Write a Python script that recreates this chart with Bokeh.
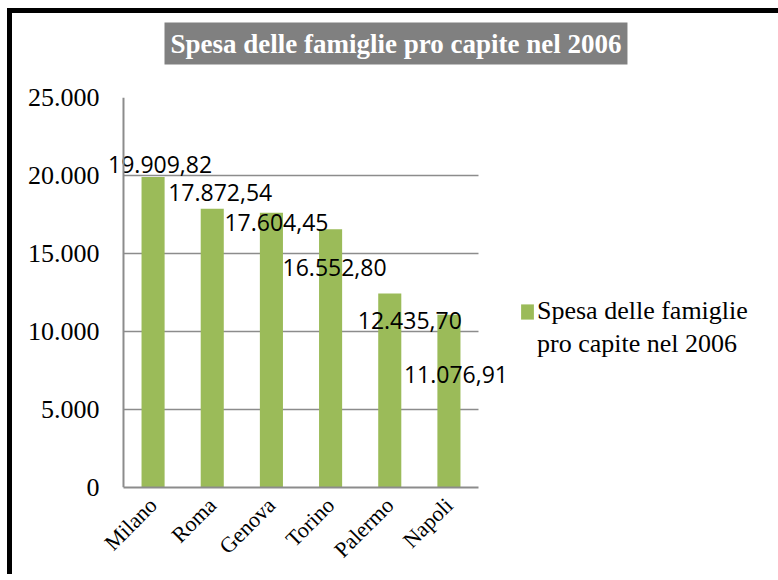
from bokeh.plotting import figure
from bokeh.models import ColumnDataSource, LabelSet, Legend, LegendItem, FixedTicker, Range1d, Span, Title
from bokeh.core.properties import value
from bokeh.embed import file_html
from bokeh.resources import INLINE
from math import pi

# ---- data ----
cities = ["Milano", "Roma", "Genova", "Torino", "Palermo", "Napoli"]
spesa = [19909.82, 17872.54, 17604.45, 16552.80, 12435.70, 11076.91]
value_labels = ["19.909,82", "17.872,54", "17.604,45", "16.552,80", "12.435,70", "11.076,91"]
y_ticks = [0, 5000, 10000, 15000, 20000, 25000]
y_tick_labels = ["0", "5.000", "10.000", "15.000", "20.000", "25.000"]
series_name = "Spesa delle famiglie pro capite nel 2006"
legend_lines = ["Spesa delle famiglie", "pro capite nel 2006"]

# label placement (pixels, layout only)
lab_dx = [7, 8, 5, 4, 20, 7]
lab_dy = [4, 8, -18, -47, -35, -68]

GREEN = "#9BBB59"
GRID = "#8c8c8c"

n = len(cities)
xpos = [i + 0.5 for i in range(n)]

p = figure(x_range=Range1d(-0.304, 6.625), y_range=Range1d(0, 25000),
           frame_width=410, frame_height=390,
           output_backend="svg", toolbar_location=None,
           min_border_left=93, min_border_right=240, min_border_top=84, min_border_bottom=70)
p.styles = {"margin-left": "7px", "margin-top": "8px", "margin-bottom": "-40px",
            "border-left": "5px solid black", "border-top": "5px solid black"}
p.outline_line_color = None
p.background_fill_color = "white"
p.border_fill_color = "white"

src = ColumnDataSource(dict(x=xpos, top=spesa, txt=value_labels, dx=lab_dx, dy=lab_dy))
bars = p.vbar(x="x", top="top", width=0.39, source=src, fill_color=GREEN, line_color=None)
blank = p.vbar(x=[], top=[], width=0.39, fill_alpha=0, line_alpha=0)

labels = LabelSet(x="x", y="top", text="txt", x_offset="dx", y_offset="dy", source=src,
                  text_align="center", text_baseline="alphabetic",
                  text_font=value("Open Sans"), text_font_size="23px", text_color="black")
p.add_layout(labels)

# y axis
p.yaxis.ticker = FixedTicker(ticks=y_ticks)
p.yaxis.major_label_overrides = {t: l for t, l in zip(y_ticks, y_tick_labels)}
p.yaxis.major_label_text_font = "Liberation Serif"
p.yaxis.major_label_text_font_size = "26px"
p.yaxis.major_label_text_color = "black"
p.yaxis.major_tick_line_color = None
p.yaxis.minor_tick_line_color = None
p.yaxis.major_tick_out = 0
p.yaxis.major_label_standoff = 6
p.yaxis.axis_line_color = None
p.add_layout(Span(location=0, dimension="height", line_color=GRID, line_width=2))

# x axis
p.xaxis.ticker = FixedTicker(ticks=xpos)
p.xaxis.major_label_overrides = {x: c for x, c in zip(xpos, cities)}
p.xaxis.bounds = (0, n)
p.xaxis.major_label_orientation = pi / 4
p.xaxis.major_label_text_font = "Liberation Serif"
p.xaxis.major_label_text_font_size = "22px"
p.xaxis.major_label_text_color = "black"
p.xaxis.major_tick_line_color = None
p.xaxis.minor_tick_line_color = None
p.xaxis.major_tick_out = 0
p.xaxis.major_label_standoff = 14
p.xaxis.axis_line_color = GRID
p.xaxis.axis_line_width = 2

p.xgrid.grid_line_color = None
p.ygrid.grid_line_color = GRID
p.ygrid.grid_line_width = 1.5
p.ygrid.cross_bounds = (0, n)

# title box (outermost)
p.title.text = series_name
p.title.align = "left"
p.title.offset = 59
p.title.standoff = 0
p.title.text_font = "Liberation Serif"
p.title.text_font_style = "bold"
p.title.text_font_size = "27px"
p.title.text_color = "white"
p.title.background_fill_color = "#808080"
p.title.padding = 6

# spacer between title box and plot area
spacer = Title(text=" ", text_font_size="20px", standoff=9)
p.add_layout(spacer, "above")

# legend
legend = Legend(items=[LegendItem(label=legend_lines[0], renderers=[bars]),
                       LegendItem(label=legend_lines[1], renderers=[blank])],
                location=(4, 128), padding=0, margin=0, spacing=3, border_line_color=None,
                background_fill_alpha=0, glyph_width=16, glyph_height=19, label_standoff=2,
                label_text_font="Liberation Serif", label_text_font_size="26px",
                label_text_color="black")
p.add_layout(legend, "right")

open("out.html", "w").write(file_html(p, INLINE))
